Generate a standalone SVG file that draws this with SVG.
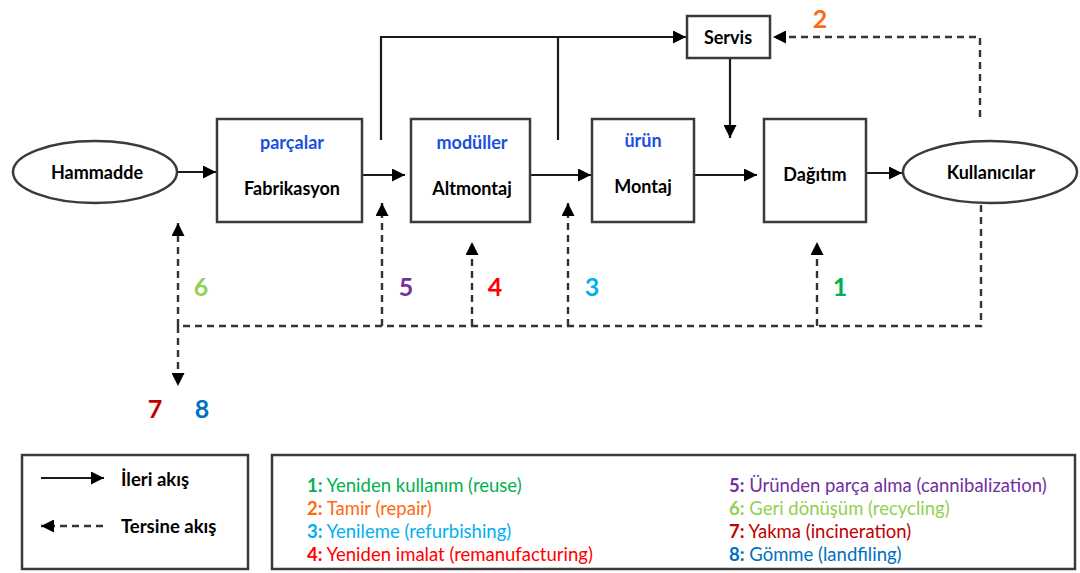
<svg xmlns="http://www.w3.org/2000/svg" width="1080" height="573" viewBox="0 0 1080 573">
  <defs>
    <marker id="head" viewBox="0 0 12 12" refX="12" refY="6" markerWidth="13" markerHeight="13" markerUnits="userSpaceOnUse" orient="auto">
      <path d="M0,0 L12,6 L0,12 z" fill="#000"/>
    </marker>
    <style>
      .node { fill: #fff; stroke: #3a3a3a; stroke-width: 2.5; }
      .flow { fill: none; stroke: #1a1a1a; stroke-width: 2.2; }
      .rev { fill: none; stroke: #333; stroke-width: 2.4; stroke-dasharray: 7 5; }
      .lbl { font-family: Lato, "Liberation Sans", sans-serif; font-weight: bold; font-size: 18px; fill: #000; text-anchor: middle; dominant-baseline: central; }
      .sub { font-family: Lato, "Liberation Sans", sans-serif; font-weight: bold; font-size: 18px; fill: #1a4fe0; text-anchor: middle; dominant-baseline: central; }
      .num { font-family: Lato, "Liberation Sans", sans-serif; font-weight: bold; font-size: 25px; text-anchor: middle; dominant-baseline: central; }
      .leg { font-family: Lato, "Liberation Sans", sans-serif; font-size: 18.5px; dominant-baseline: central; }
      .legb { font-family: Lato, "Liberation Sans", sans-serif; font-weight: bold; font-size: 18.5px; fill: #000; dominant-baseline: central; }
    </style>
  </defs>
  <rect width="1080" height="573" fill="#fff"/>

  <!-- connectors -->
  <g id="connectors">
    <!-- forward flow -->
    <path class="flow" d="M177,172 H216" marker-end="url(#head)"/>
    <path class="flow" d="M362,175 H405" marker-end="url(#head)"/>
    <path class="flow" d="M530,175 H591" marker-end="url(#head)"/>
    <path class="flow" d="M694,175 H757" marker-end="url(#head)"/>
    <path class="flow" d="M866,173 H902" marker-end="url(#head)"/>
    <path class="flow" d="M381,140 V37 H686" marker-end="url(#head)"/>
    <path class="flow" d="M558,140 V37"/>
    <path class="flow" d="M730,58 V138" marker-end="url(#head)"/>
    <!-- reverse flow -->
    <path class="rev" d="M980,117 V37 H773" marker-end="url(#head)"/>
    <path class="rev" d="M981,205 V326 H178"/>
    <path class="rev" d="M178,326 V223" marker-end="url(#head)"/>
    <path class="rev" d="M178,326 V386" marker-end="url(#head)"/>
    <path class="rev" d="M382,326 V203" marker-end="url(#head)"/>
    <path class="rev" d="M472,326 V242" marker-end="url(#head)"/>
    <path class="rev" d="M568,326 V203" marker-end="url(#head)"/>
    <path class="rev" d="M817,326 V242" marker-end="url(#head)"/>
  </g>

  <!-- nodes -->
  <g id="hammadde">
    <ellipse class="node" cx="95" cy="172" rx="82" ry="31"/>
    <text class="lbl" x="97" y="172">Hammadde</text>
  </g>
  <g id="fabrikasyon">
    <rect class="node" x="217" y="119" width="145" height="103"/>
    <text class="sub" x="292" y="142">parçalar</text>
    <text class="lbl" x="292" y="188">Fabrikasyon</text>
  </g>
  <g id="altmontaj">
    <rect class="node" x="411" y="119" width="119" height="103"/>
    <text class="sub" x="472" y="142">modüller</text>
    <text class="lbl" x="472" y="188">Altmontaj</text>
  </g>
  <g id="montaj">
    <rect class="node" x="592" y="119" width="102" height="103"/>
    <text class="sub" x="643" y="140">ürün</text>
    <text class="lbl" x="643" y="186">Montaj</text>
  </g>
  <g id="dagitim">
    <rect class="node" x="764" y="119" width="102" height="103"/>
    <text class="lbl" x="815" y="174">Dağıtım</text>
  </g>
  <g id="kullanicilar">
    <ellipse class="node" cx="990" cy="172" rx="87" ry="31"/>
    <text class="lbl" x="991" y="172">Kullanıcılar</text>
  </g>
  <g id="servis">
    <rect class="node" x="687" y="16" width="83" height="42"/>
    <text class="lbl" x="728" y="37">Servis</text>
  </g>

  <!-- option numbers -->
  <g id="numbers">
    <text class="num" x="820" y="18" fill="#ff6a10">2</text>
    <text class="num" x="201" y="286" fill="#92d050">6</text>
    <text class="num" x="406" y="286" fill="#7030a0">5</text>
    <text class="num" x="495" y="286" fill="#ff0000">4</text>
    <text class="num" x="592" y="286" fill="#00b0f0">3</text>
    <text class="num" x="840" y="286" fill="#00b050">1</text>
    <text class="num" x="155" y="408" fill="#c00000">7</text>
    <text class="num" x="202" y="408" fill="#0070c0">8</text>
  </g>

  <!-- flow-type key -->
  <g id="key-flows">
    <rect class="node" x="22" y="455" width="226" height="114"/>
    <path class="flow" d="M41,478 H104" marker-end="url(#head)"/>
    <path class="rev" d="M103,526 H41" marker-end="url(#head)"/>
    <text class="legb" x="121" y="479">İleri akış</text>
    <text class="legb" x="121" y="526">Tersine akış</text>
  </g>

  <!-- recovery options key -->
  <g id="key-options">
    <rect class="node" x="272" y="455" width="803" height="114"/>
    <text class="leg" x="307" y="485" fill="#00b050"><tspan font-weight="bold">1:</tspan> Yeniden kullanım (reuse)</text>
    <text class="leg" x="307" y="508" fill="#ff6a10"><tspan font-weight="bold">2:</tspan> Tamir (repair)</text>
    <text class="leg" x="307" y="531" fill="#00b0f0"><tspan font-weight="bold">3:</tspan> Yenileme (refurbishing)</text>
    <text class="leg" x="307" y="554" fill="#ff0000"><tspan font-weight="bold">4:</tspan> Yeniden imalat (remanufacturing)</text>
    <text class="leg" x="729" y="485" fill="#7030a0"><tspan font-weight="bold">5:</tspan> Üründen parça alma (cannibalization)</text>
    <text class="leg" x="729" y="508" fill="#92d050"><tspan font-weight="bold">6:</tspan> Geri dönüşüm (recycling)</text>
    <text class="leg" x="729" y="531" fill="#c00000"><tspan font-weight="bold">7:</tspan> Yakma (incineration)</text>
    <text class="leg" x="729" y="554" fill="#0070c0"><tspan font-weight="bold">8:</tspan> Gömme (landfiling)</text>
  </g>
</svg>
